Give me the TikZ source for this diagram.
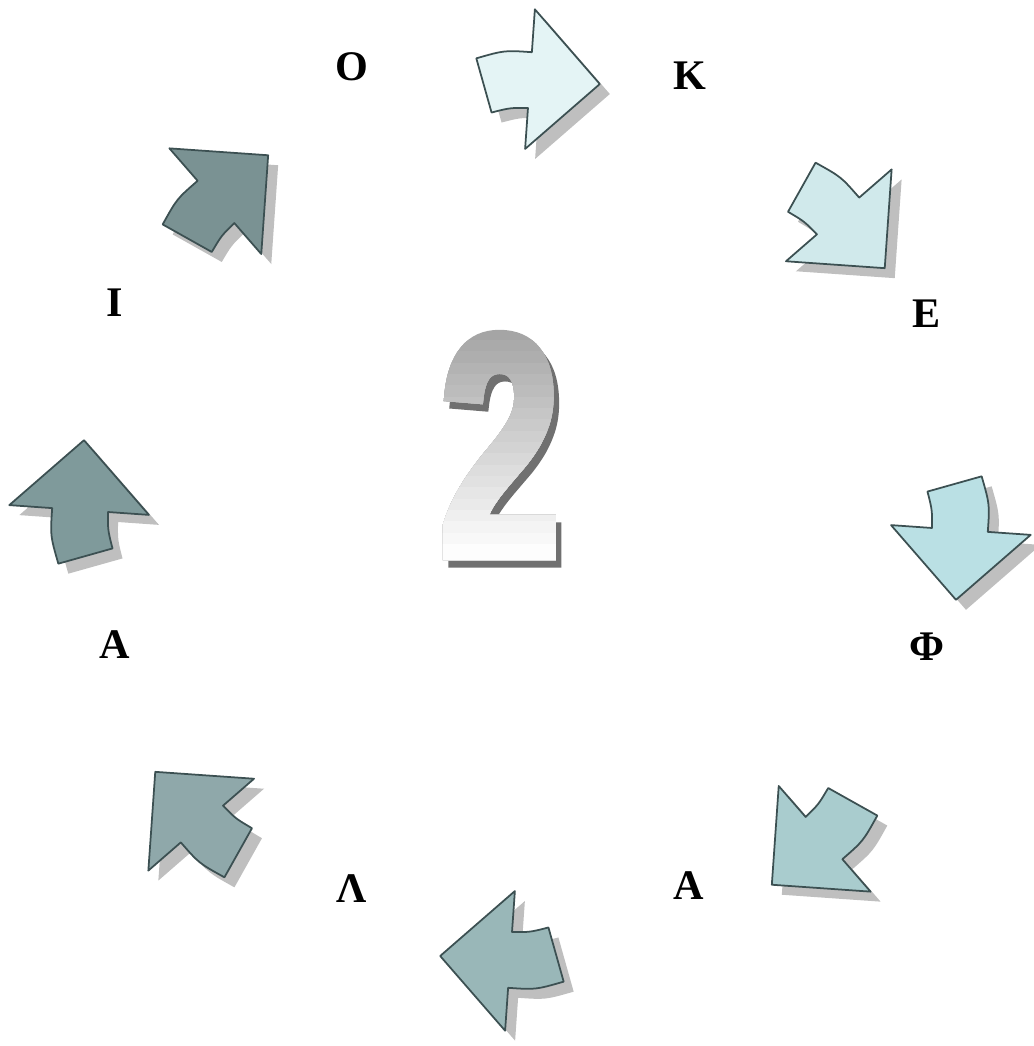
\documentclass[tikz,border=0pt]{standalone}
\usepackage{fontspec}
\setmainfont{Liberation Serif}
\newfontfamily\twofont[FakeStretch=0.68,FakeBold=3]{Liberation Sans Bold}
\usepackage{xcolor}
\usetikzlibrary{calc}

\definecolor{arrowline}{HTML}{3C5052}
\definecolor{arrowshade}{HTML}{BFBFBF}
\definecolor{arrowA}{HTML}{E4F4F5}
\definecolor{arrowB}{HTML}{D0E9EB}
\definecolor{arrowC}{HTML}{BAE0E4}
\definecolor{arrowD}{HTML}{A9CCCE}
\definecolor{arrowE}{HTML}{99B7B8}
\definecolor{arrowF}{HTML}{8FA8AA}
\definecolor{arrowG}{HTML}{7F9A9B}
\definecolor{arrowH}{HTML}{7A9293}
\definecolor{twotop}{HTML}{A3A3A3}
\definecolor{twoshadow}{HTML}{707070}

% one bent block arrow, pointing along +x
\newcommand{\bentarrow}{(-1.1,0.34) .. controls (-0.55,0.54) .. (0,0.54) -- (0,1.4) -- (1.4,0) -- (0,-1.4) -- (0,-0.58) .. controls (-0.36,-0.60) .. (-0.72,-0.72) -- cycle}

\begin{document}
\begin{tikzpicture}[
  letter/.style={font=\bfseries\fontsize{24}{28}\selectfont, inner sep=0pt},
  twoglyph/.style={font=\twofont\fontsize{180}{186}\selectfont, inner sep=0pt},
  arrowbody/.style={draw=arrowline, line width=1pt, line join=round}
]
\useasboundingbox (-10.40,-10.52) rectangle (10.26,10.40);

% Arrows round the circle
\foreach \k/\col in {0/arrowA,1/arrowB,2/arrowC,3/arrowD,4/arrowE,5/arrowF,6/arrowG,7/arrowH} {
  \pgfmathsetmacro{\pos}{88.7-45*\k}
  \pgfmathsetmacro{\dir}{\pos-92.7}
  \fill[arrowshade, shift={(0.2,-0.2)}, shift={(\pos:8.82)}, rotate=\dir] \bentarrow;
  \filldraw[arrowbody, fill=\col, shift={(\pos:8.82)}, rotate=\dir] \bentarrow;
}

% Letters
\node[letter] (kappa) at (3.40,8.88) {Κ};
\node[letter] (epsilon) at (8.14,4.12) {Ε};
\node[letter] (phi) at (8.14,-2.54) {Φ};
\node[letter] (alphaR) at (3.38,-7.32) {Α};
\node[letter] (lambda) at (-3.36,-7.38) {Λ};
\node[letter] (alphaL) at (-8.10,-2.50) {Α};
\node[letter] (iota) at (-8.10,4.34) {Ι};
\node[letter] (omicron) at (-3.36,9.06) {Ο};

% Big number: shadow, then the face in bands from grey to white
\node[twoglyph, text=twoshadow] (twoshade) at (-0.29,1.35) {2};
\coordinate (twoNW) at ($(twoshade.north west)+(-0.11,0.25)$);
\coordinate (twoSE) at ($(twoshade.south east)+(-0.11,0.15)$);
\foreach \i in {0,...,19} {
  \pgfmathsetmacro{\mix}{100-100*(\i+0.5)/20}
  \begin{scope}
    \clip ($(twoNW)!\i/20!(twoNW |- twoSE)$) rectangle ($(twoSE)+(0.2,-0.2)$);
    \node[twoglyph, text=twotop!\mix!white] (two\i) at (-0.40,1.50) {2};
  \end{scope}
}

\end{tikzpicture}
\end{document}
